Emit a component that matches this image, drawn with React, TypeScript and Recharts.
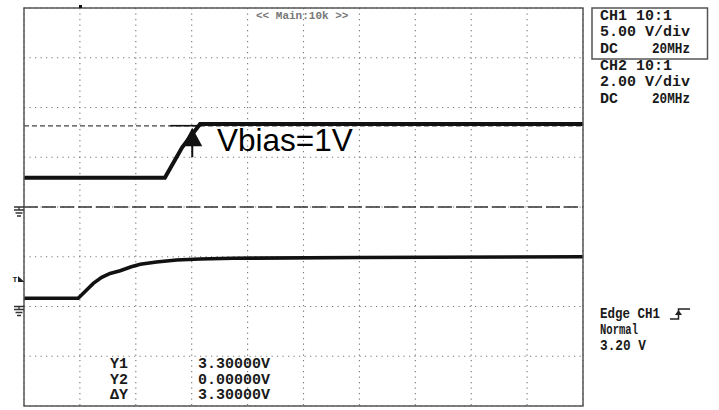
import { LineChart, Line, XAxis, YAxis, CartesianGrid, ReferenceLine, ReferenceDot } from "recharts";

// time in screen divisions, volts per channel
const TIME_CH1 = [0, 2.52, 2.83, 3.15, 10];
const VOLTS_CH1 = [2.95, 2.95, 6.0, 8.35, 8.35];
const TIME_CH2 = [0, 0.97, 1.12, 1.24, 1.39, 1.54, 1.72, 1.92, 2.08, 2.37, 2.73, 3.15, 3.74, 6.01, 10];
const VOLTS_CH2 = [0.33, 0.33, 0.66, 0.93, 1.17, 1.33, 1.44, 1.6, 1.7, 1.79, 1.87, 1.91, 1.94, 1.97, 2.0];

const CH1_VDIV = 5;
const CH1_GND = 0;
const CH2_VDIV = 2;
const CH2_GND = -2;

const X_TICKS = [0, 1, 2, 3, 4, 5, 6, 7, 8, 9, 10];
const Y_TICKS = [-4, -3, -2, -1, 0, 1, 2, 3, 4];
const CURSOR_DIV = 1.63;
const ARROW_AT = { x: 3.01, y: 1.594 };

const CH_LABELS = ["CH1 10:1", "5.00 V/div", "DC", "CH2 10:1", "2.00 V/div", "DC"];
const TRIG_LABELS = ["Edge CH1", "Normal", "3.20 V"];
const TRIG_WIDTHS = [60, 38, 46];
const CURSOR_NAMES = ["Y1", "Y2", "\u0394Y"];
const CURSOR_VALUES = ["3.30000V", "0.00000V", "3.30000V"];

const ch1 = TIME_CH1.map((t, i) => ({ t, v: CH1_GND + VOLTS_CH1[i] / CH1_VDIV }));
const ch2 = TIME_CH2.map((t, i) => ({ t, v: CH2_GND + VOLTS_CH2[i] / CH2_VDIV }));

const MONO = "'Liberation Mono', 'DejaVu Sans Mono', monospace";

function Ground({ y }: { y: number }) {
  return (
    <g stroke="#333" strokeWidth={1.3} fill="none">
      <path d={`M14 ${y} H24 M19 ${y} V${y + 3} M14 ${y + 3} H24 M15.5 ${y + 6} H22.5 M17 ${y + 9} H21`} />
    </g>
  );
}

function ArrowLabel(props: any) {
  const { cx, cy } = props;
  return (
    <g>
      <line x1={cx - 22} x2={cx + 9.5} y1={cy - 2} y2={cy - 2} stroke="#111" strokeWidth={1.6} />
      <path d={`M${cx} ${cy} L${cx - 10} ${cy + 18.5} L${cx + 10} ${cy + 18.5} Z`} fill="#111" />
      <rect x={cx - 1} y={cy + 18} width={2} height={11.5} fill="#111" />
      <text x={cx + 24.7} y={cy + 23.3} fontFamily="'Liberation Sans', Arial, sans-serif" fontSize={31.5} fill="#000">
        Vbias=1V
      </text>
    </g>
  );
}

export default function App() {
  return (
    <div style={{ position: "absolute", left: 0, top: 0, width: 719, height: 410, background: "#fff" }}>
      <LineChart width={719} height={410} margin={{ top: 8, right: 136, bottom: 4, left: 24 }}>
        <XAxis type="number" dataKey="t" domain={[0, 10]} ticks={X_TICKS} hide allowDuplicatedCategory={false} />
        <YAxis type="number" domain={[-4, 4]} ticks={Y_TICKS} hide />
        <CartesianGrid stroke="#777" strokeDasharray="1.2 4.3" strokeWidth={1.1} />
        <ReferenceLine y={0} stroke="#333" strokeWidth={1.3} strokeDasharray="14 4" />
        <ReferenceLine y={CURSOR_DIV} stroke="#444" strokeWidth={1.1} strokeDasharray="5 3" />
        <Line data={ch1} dataKey="v" type="linear" stroke="#111" strokeWidth={4} dot={false} isAnimationActive={false} />
        <Line data={ch2} dataKey="v" type="linear" stroke="#111" strokeWidth={3.6} dot={false} isAnimationActive={false} />
        <ReferenceDot x={ARROW_AT.x} y={ARROW_AT.y} r={1} shape={ArrowLabel} />
      </LineChart>
      <svg width={719} height={410} style={{ position: "absolute", left: 0, top: 0, pointerEvents: "none" }}>
        <rect x={24} y={8} width={559} height={398} fill="none" stroke="#555" strokeWidth={1.5} />
        <rect x={79} y={5} width={3} height={3} fill="#111" />
        <text x={256} y={18.5} fontFamily={MONO} fontSize={11} fontWeight="bold" fill="#777">
          {"<< Main:10k >>"}
        </text>
        <Ground y={207} />
        <Ground y={306.5} />
        <text x={12.5} y={282} fontFamily={MONO} fontSize={8} fontWeight="bold" fill="#222">T</text>
        <path d="M18 276 L24.5 282 L18 282 Z" fill="#222" />

        <rect x={592} y={8} width={115.5} height={51} fill="none" stroke="#555" strokeWidth={1.5} />
        <g fontFamily={MONO} fontSize={15} fontWeight="bold" fill="#1a1a1a">
          {CH_LABELS.map((s, i) => (
            <text key={i} x={600} y={19.5 + i * 16.7}>{s}</text>
          ))}
          <text x={652} y={53} textLength={38} lengthAdjust="spacingAndGlyphs">20MHz</text>
          <text x={652} y={103} textLength={38} lengthAdjust="spacingAndGlyphs">20MHz</text>
          {TRIG_LABELS.map((s, i) => (
            <text key={"t" + i} x={600} y={318 + i * 16} textLength={TRIG_WIDTHS[i]} lengthAdjust="spacingAndGlyphs">{s}</text>
          ))}
          {CURSOR_NAMES.map((s, i) => (
            <text key={"c" + i} x={128} y={368 + i * 15.7} textAnchor="end">{s}</text>
          ))}
          {CURSOR_VALUES.map((s, i) => (
            <text key={"v" + i} x={198} y={368 + i * 15.7}>{s}</text>
          ))}
        </g>
        <g stroke="#222" strokeWidth={1.5} fill="none">
          <path d="M670 319 H678.5 V309 H690" />
        </g>
        <path d="M675 315 L678.5 310 L682 315 Z" fill="#222" />
      </svg>
    </div>
  );
}
